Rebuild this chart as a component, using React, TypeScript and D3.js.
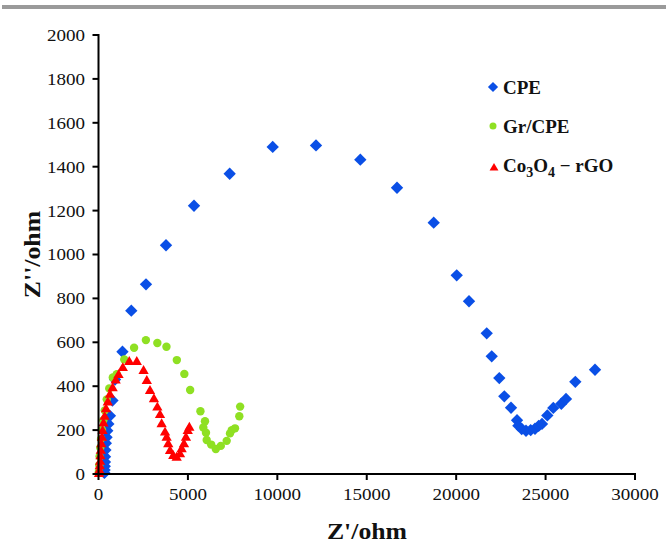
import * as d3 from 'd3'

const W = 666
const H = 548
const MARGIN = { top: 35, right: 31, bottom: 74, left: 98.5 }

// Nyquist data, [Z', Z''] in ohm
const cpe: [number, number][] = [
  [330, 5], [340, 18], [350, 35], [360, 55], [365, 79], [385, 109], [410, 140],
  [450, 167], [490, 197], [550, 228], [640, 265], [780, 335], [925, 430],
  [1340, 557], [1834, 744], [2656, 864], [3775, 1042], [5340, 1222],
  [7335, 1368], [9741, 1490], [12162, 1497], [14640, 1432], [16692, 1304],
  [18744, 1145], [20030, 905], [20718, 787], [21708, 641], [21988, 536],
  [22412, 437], [22692, 354], [23067, 302], [23403, 245], [23478, 220],
  [23665, 205], [23906, 197], [24167, 200], [24409, 206], [24614, 219],
  [24800, 228], [25097, 267], [25432, 301], [25880, 320], [26142, 342],
  [26663, 420], [27764, 475],
]

const grCpe: [number, number][] = [
  [20, 10], [40, 40], [60, 80], [100, 120], [140, 160], [200, 200], [270, 245],
  [350, 290], [460, 340], [600, 390], [800, 440], [1020, 455], [1440, 522],
  [1990, 575], [2650, 610], [3290, 597], [3800, 580], [4380, 519], [4800, 456],
  [5125, 383], [5700, 286], [5955, 240], [5860, 212], [6010, 188], [6050, 155],
  [6300, 134], [6560, 114], [6840, 128], [7168, 151], [7353, 185], [7450, 200],
  [7633, 208], [7874, 263], [7920, 307],
]

const co3o4: [number, number][] = [
  [30, 5], [50, 20], [70, 40], [90, 60], [110, 85], [130, 110], [160, 140],
  [190, 170], [230, 200], [280, 235], [340, 265], [420, 300], [520, 330],
  [640, 365], [790, 395], [960, 430], [1120, 455], [1360, 487], [1720, 515],
  [2140, 515], [2520, 474], [2700, 428], [2880, 383], [3100, 345], [3290, 307],
  [3440, 273], [3530, 231], [3720, 193], [3810, 170], [3900, 140], [4000, 109],
  [4180, 87], [4370, 79], [4560, 94], [4650, 117], [4780, 140], [4890, 170],
  [4990, 200], [5080, 215],
]

const xTicks = [0, 5000, 10000, 15000, 20000, 25000, 30000]
const yTicks = [0, 200, 400, 600, 800, 1000, 1200, 1400, 1600, 1800, 2000]

const BLUE = '#0a4fe6'
const GREEN = '#8fe023'
const RED = '#ff0000'
const FONT = '"Liberation Serif", "Times New Roman", serif'
const SX = 1.12 // the source picture is a bit stretched sideways

const diamond = d3.symbol(d3.symbolSquare, 76)()
const diamondSmall = d3.symbol(d3.symbolSquare, 52)()
const triangle = d3.symbol(d3.symbolTriangle, 46)()
const triangleSmall = d3.symbol(d3.symbolTriangle, 34)()

export default function App() {
  const x = d3.scaleLinear().domain([0, 30000]).range([MARGIN.left, W - MARGIN.right])
  const y = d3.scaleLinear().domain([0, 2000]).range([H - MARGIN.bottom, MARGIN.top])
  const x0 = x(0)
  const y0 = y(0)

  return (
    <div style={{ position: 'absolute', left: 0, top: 0 }}>
      <svg width={W} height={H} style={{ display: 'block', background: '#fff' }}>
        {/* top rule */}
        <rect x={2} y={5} width={W - 2} height={4} fill="#9a9a9a" />

        {/* markers */}
        {cpe.map(([a, b], i) => (
          <path key={'b' + i} d={diamond!} transform={`translate(${x(a)},${y(b)}) rotate(45)`} fill={BLUE} />
        ))}
        {grCpe.map(([a, b], i) => (
          <circle key={'g' + i} cx={x(a)} cy={y(b)} r={4.2} fill={GREEN} />
        ))}
        {co3o4.map(([a, b], i) => (
          <path key={'r' + i} d={triangle!} transform={`translate(${x(a)},${y(b) + 1})`} fill={RED} />
        ))}

        {/* y axis */}
        <line x1={x0} x2={x0} y1={y(2000) - 1} y2={y0 + 1} stroke="#000" strokeWidth={2} />
        {yTicks.map(t => (
          <g key={t}>
            <line x1={x0 - 6} x2={x0} y1={y(t)} y2={y(t)} stroke="#000" strokeWidth={2} />
            <text
              transform={`translate(85,${y(t)}) scale(${SX},1)`}
              dy="0.35em"
              textAnchor="end"
              fontFamily={FONT}
              fontSize={17}
              fill="#111"
            >
              {t}
            </text>
          </g>
        ))}

        {/* x axis */}
        <line x1={x0 - 1} x2={x(30000) + 1} y1={y0} y2={y0} stroke="#000" strokeWidth={2} />
        {xTicks.map(t => (
          <g key={t}>
            <line x1={x(t)} x2={x(t)} y1={y0} y2={y0 + 6} stroke="#000" strokeWidth={2} />
            <text
              transform={`translate(${x(t)},500) scale(${SX},1)`}
              textAnchor="middle"
              fontFamily={FONT}
              fontSize={17}
              fill="#111"
            >
              {t}
            </text>
          </g>
        ))}

        {/* axis titles */}
        <text
          transform={`translate(367,539) scale(${SX},1)`}
          textAnchor="middle"
          fontFamily={FONT}
          fontSize={23}
          fontWeight="bold"
          fill="#111"
        >
          Z'/ohm
        </text>
        <text
          transform={`translate(40,${(y(0) + y(2000)) / 2}) rotate(-90) scale(${SX},1)`}
          textAnchor="middle"
          fontFamily={FONT}
          fontSize={23}
          fontWeight="bold"
          fill="#111"
        >
          Z''/ohm
        </text>

        {/* legend */}
        <g fontFamily={FONT} fontSize={19} fontWeight="bold" fill="#111">
          <path d={diamondSmall!} transform="translate(493,87) rotate(45)" fill={BLUE} />
          <text x={503} y={94}>CPE</text>
          <circle cx={493} cy={126} r={3.5} fill={GREEN} />
          <text x={503} y={133}>Gr/CPE</text>
          <path d={triangleSmall!} transform="translate(494,168)" fill={RED} />
          <text x={503} y={172}>
            Co<tspan fontSize={14} dy={5}>3</tspan>
            <tspan dy={-5}>O</tspan>
            <tspan fontSize={14} dy={5}>4</tspan>
            <tspan dy={-5}> − rGO</tspan>
          </text>
        </g>
      </svg>
    </div>
  )
}
